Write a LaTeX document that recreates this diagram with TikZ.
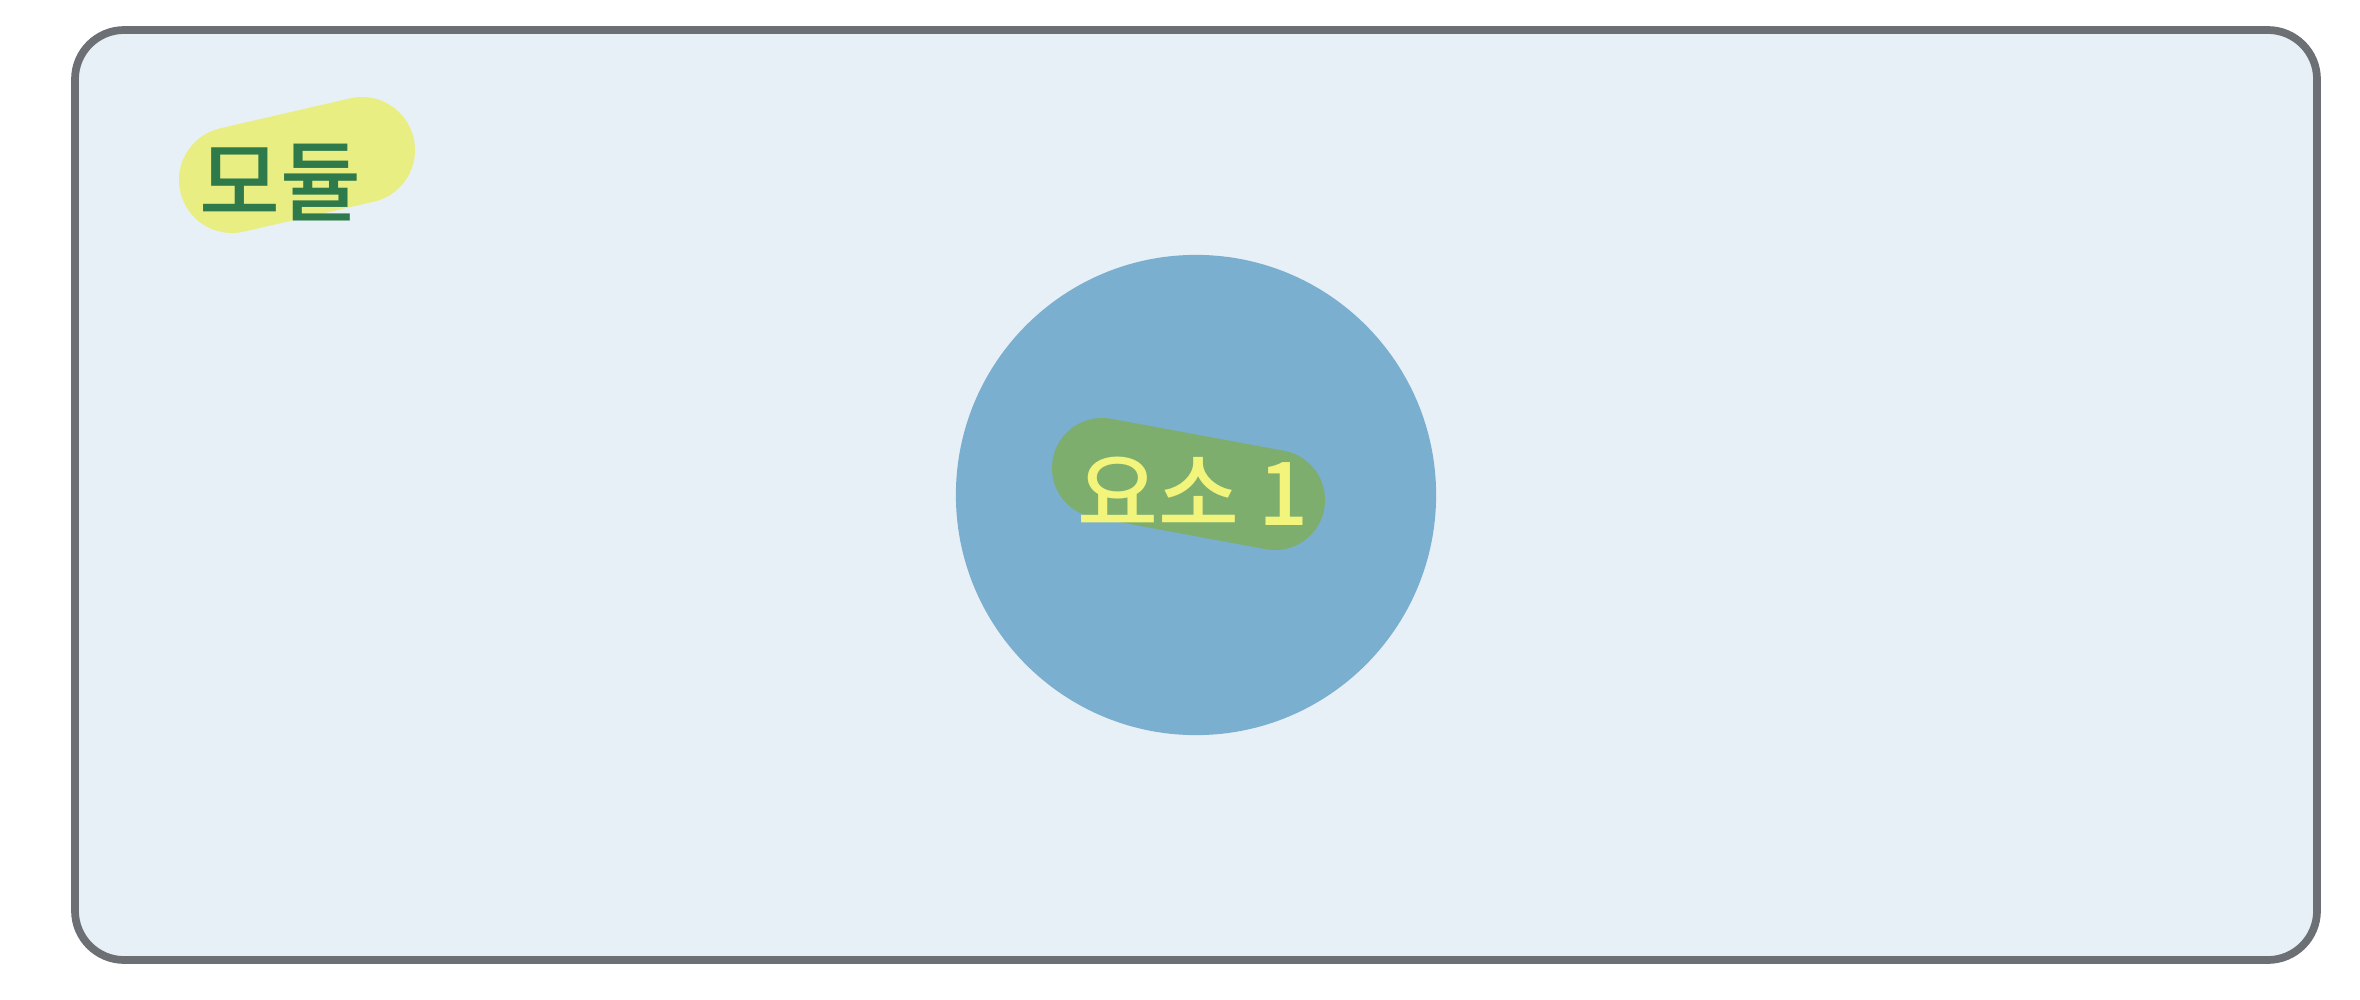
\documentclass[tikz,border=0pt]{standalone}
\usepackage{fontspec}
\newfontfamily\kr{Noto Sans CJK KR}[UprightFont=* Medium]
\definecolor{boxfill}{HTML}{E8F0F7}
\definecolor{boxline}{HTML}{6C7075}
\definecolor{circfill}{HTML}{7AAFCF}
\definecolor{hlyellow}{HTML}{E8EE82}
\definecolor{hlgreen}{HTML}{7DAE6E}
\definecolor{txtgreen}{HTML}{2F7A4A}
\definecolor{txtyellow}{HTML}{F2F47C}
\tikzset{
  modbox/.style={draw=boxline, fill=boxfill, line width=2.2pt, rounded corners=14pt},
  elem/.style={circle, fill=circfill, minimum size=480*0.2845pt, inner sep=0pt},
  hl/.style={line width=106*0.2845pt, line cap=round},
  lbl/.style={font=\kr\fontsize{25}{28}\selectfont, inner sep=0pt}
}
\begin{document}
\begin{tikzpicture}[x=0.01cm,y=-0.01cm]
\useasboundingbox (0,0) rectangle (2360,1000);
\fill[white] (0,0) rectangle (2360,1000);
\draw[modbox] (75,30) rectangle (2317,960);
% module label
\coordinate (mh1) at (232,180);
\coordinate (mh2) at (362,150);
\draw[hl, hlyellow] (mh1) -- (mh2);
\node[lbl, text=txtgreen] (modlabel) at (280,183) {모듈};
% element
\node[elem] (e1) at (1196,495) {};
\coordinate (eh1) at (1102,468);
\coordinate (eh2) at (1275,500);
\draw[hl, hlgreen, line width=100*0.2845pt] (eh1) -- (eh2);
\node[lbl, text=txtyellow] (e1label) at (1193,491) {요소 1};
\end{tikzpicture}
\end{document}
